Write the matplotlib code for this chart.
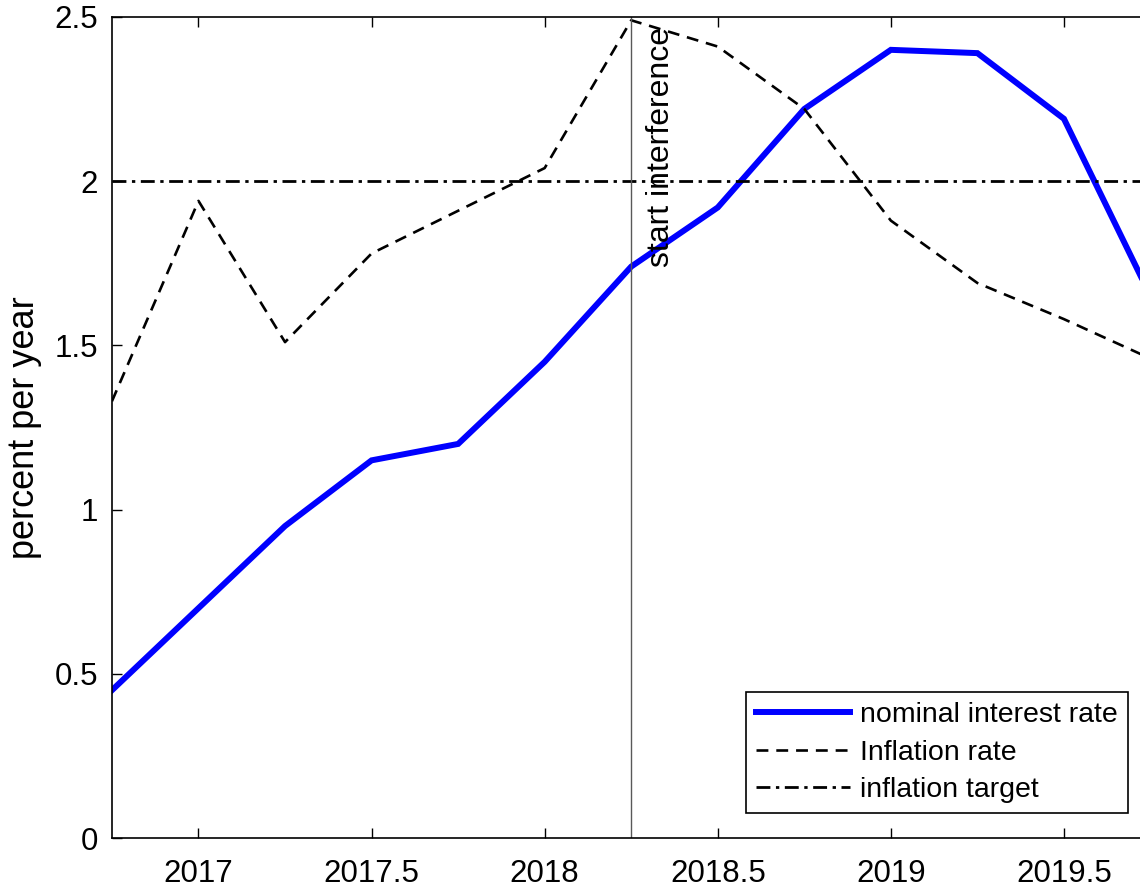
import numpy as np
import matplotlib
matplotlib.use("Agg")
import matplotlib.pyplot as plt

plt.rcParams['font.family'] = ['Liberation Sans', 'DejaVu Sans']

# quarterly data
quarters = [2016.75, 2017.0, 2017.25, 2017.5, 2017.75, 2018.0, 2018.25,
            2018.5, 2018.75, 2019.0, 2019.25, 2019.5, 2019.75]
nominal_rate = [0.45, 0.70, 0.95, 1.15, 1.20, 1.45, 1.74,
                1.92, 2.22, 2.40, 2.39, 2.19, 1.65]
inflation = [1.33, 1.94, 1.51, 1.78, 1.91, 2.04, 2.49,
             2.41, 2.22, 1.88, 1.69, 1.58, 1.46]
target = 2.0
start_q = 2018.25

xticks = [2017, 2017.5, 2018, 2018.5, 2019, 2019.5]
xticklabels = ['2017', '2017.5', '2018', '2018.5', '2019', '2019.5']
yticks = [0, 0.5, 1, 1.5, 2, 2.5]
yticklabels = ['0', '0.5', '1', '1.5', '2', '2.5']

fig = plt.figure(figsize=(11.4, 8.9), dpi=100)
ax = fig.add_axes([0.0982, 0.0584, 0.9110, 0.9225])

ax.plot(quarters, nominal_rate, color=(0, 0, 1), lw=4.3,
        solid_joinstyle='miter', label='nominal interest rate')
ax.plot(quarters, inflation, color='black', lw=1.9,
        linestyle=(0, (4.5, 3)), label='Inflation rate')
ax.axhline(target, color='black', lw=2.0,
           linestyle=(0, (5, 2, 1.2, 2)), label='inflation target')
ax.axvline(start_q, color='0.35', lw=1.0)
ax.text(start_q + 0.087, 1.74, 'start interference', rotation=90,
        ha='center', va='bottom', fontsize=23)

ax.set_xlim(2016.75, 2019.75)
ax.set_ylim(0, 2.5)
ax.set_xticks(xticks)
ax.set_xticklabels(xticklabels)
ax.set_yticks(yticks)
ax.set_yticklabels(yticklabels)
ax.tick_params(direction='in', length=7, width=1, labelsize=22.5,
               top=True, right=True)
ax.tick_params(axis='x', pad=15)
ax.tick_params(axis='y', pad=10)
for lab in ax.get_yticklabels():
    lab.set_va('center_baseline')
for s in ax.spines.values():
    s.set_linewidth(1.2)
ax.set_ylabel('percent per year', fontsize=26, labelpad=9)

leg = ax.legend(loc='lower right', bbox_to_anchor=(0.9895, 0.0865),
                bbox_transform=fig.transFigure, fontsize=20.5,
                handlelength=3.3, handletextpad=0.35, labelspacing=0.4,
                borderpad=0.35, borderaxespad=0, fancybox=False,
                framealpha=1, edgecolor='black')
leg.get_frame().set_linewidth(1.2)

fig.savefig('out.png', dpi=100)
